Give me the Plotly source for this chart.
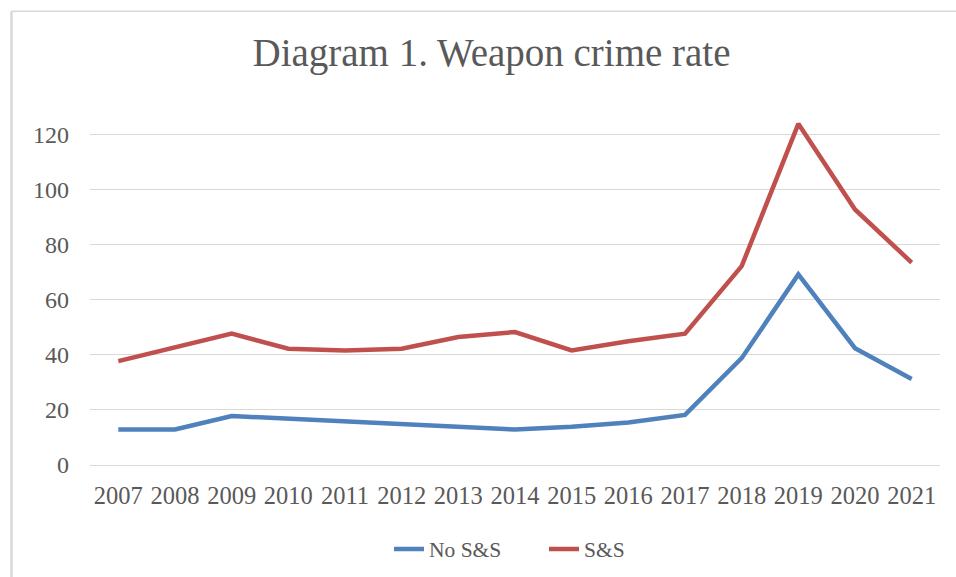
import plotly.graph_objects as go

years = ["2007", "2008", "2009", "2010", "2011", "2012", "2013", "2014",
         "2015", "2016", "2017", "2018", "2019", "2020", "2021"]
no_ss = [12.9, 12.9, 17.8, 16.8, 16.2, 15.0, 13.9, 12.9, 13.9, 15.4, 18.2, 38.8, 69.2, 42.4, 31.2]
ss = [37.7, 42.5, 47.7, 42.2, 41.6, 42.2, 46.5, 48.3, 41.6, 44.9, 47.7, 72.2, 123.9, 92.8, 73.5]
y_ticks = [0, 20, 40, 60, 80, 100, 120]

FONT = "Liberation Serif"
TXT = "#595959"
W, H = 956, 577
L, R = 89.6, 940.4
T, B = 106.9, 465.4

fig = go.Figure()
fig.add_trace(go.Scatter(x=years, y=no_ss, mode="lines", name="No S&S",
                         line=dict(color="#4F81BD", width=4.5)))
fig.add_trace(go.Scatter(x=years, y=ss, mode="lines", name="S&S",
                         line=dict(color="#C0504D", width=4.5)))

fig.update_layout(
    width=W, height=H,
    margin=dict(l=L, r=W - R, t=T, b=H - B, pad=0),
    paper_bgcolor="white", plot_bgcolor="white",
    font=dict(family=FONT, color=TXT, size=24),
    title=dict(text="Diagram 1. Weapon crime rate", xref="container", yref="container",
               x=491.5 / W, y=1 - 52 / H, xanchor="center", yanchor="middle",
               font=dict(family=FONT, size=39, color=TXT)),
    showlegend=True,
    legend=dict(orientation="h", xref="container", yref="container",
                x=544 / W, y=1 - 549 / H, xanchor="center", yanchor="middle",
                entrywidth=110, itemwidth=30,
                font=dict(family=FONT, size=21.5, color=TXT), bgcolor="rgba(0,0,0,0)"),
    xaxis=dict(type="category", range=[-0.5, 14.5], showgrid=False, zeroline=False,
               showline=False, ticks="", tickfont=dict(size=24.5, color=TXT),
               ticklabelstandoff=13),
    yaxis=dict(range=[0, 130], tickvals=y_ticks, showgrid=True, gridcolor="#D9D9D9",
               gridwidth=1.4, zeroline=True, zerolinecolor="#D9D9D9", zerolinewidth=1.4,
               showline=False, ticks="",
               tickfont=dict(size=24, color=TXT), ticklabelstandoff=20),
)

# chart-area border (top and left edges visible)
px = lambda v: (v - L) / (R - L)
py = lambda v: (B - v) / (B - T)
fig.add_shape(type="line", xref="paper", yref="paper", x0=px(10.5), x1=px(1100),
              y0=py(11), y1=py(11), line=dict(color="#D9D9D9", width=1.5), layer="below")
fig.add_shape(type="line", xref="paper", yref="paper", x0=px(11), x1=px(11),
              y0=py(11), y1=py(700), line=dict(color="#D9D9D9", width=2.5), layer="below")

fig.write_html("out.html")
